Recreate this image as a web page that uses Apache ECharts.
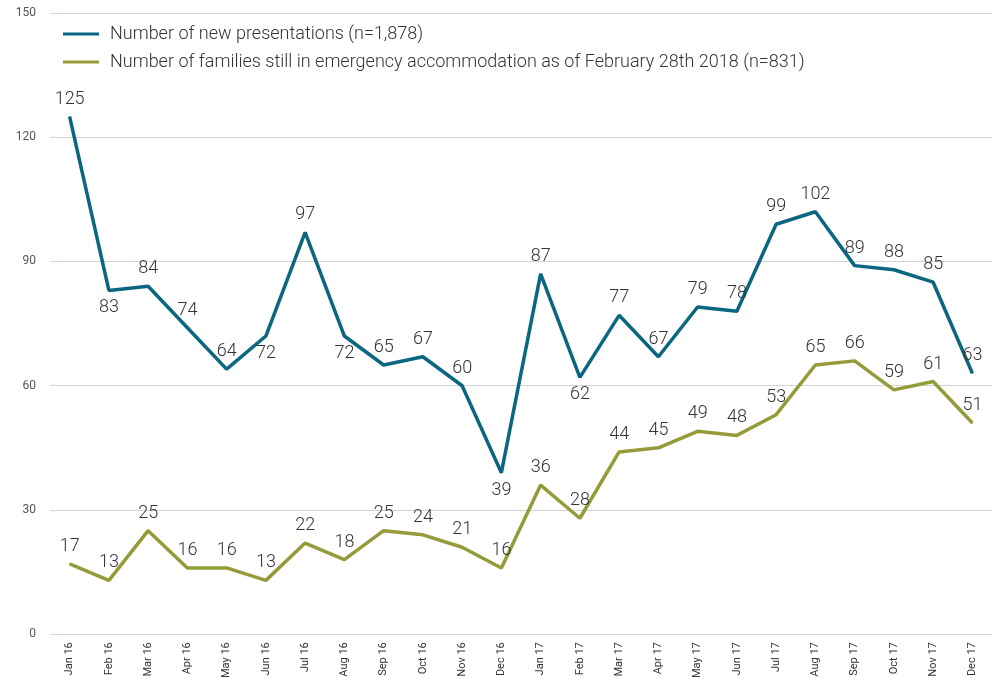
<!DOCTYPE html>
<html><head><meta charset="utf-8">
<script src="https://cdn.jsdelivr.net/npm/echarts@6/dist/echarts.min.js"></script>
<style>html,body{margin:0;padding:0;background:#fff}#c{width:992px;height:681px}</style>
</head><body><div id="c"></div>
<script>
const categories = ["Jan 16","Feb 16","Mar 16","Apr 16","May 16","Jun 16","Jul 16","Aug 16","Sep 16","Oct 16","Nov 16","Dec 16","Jan 17","Feb 17","Mar 17","Apr 17","May 17","Jun 17","Jul 17","Aug 17","Sep 17","Oct 17","Nov 17","Dec 17"];
const presentations = [125,83,84,74,64,72,97,72,65,67,60,39,87,62,77,67,79,78,99,102,89,88,85,63];
const families = [17,13,25,16,16,13,22,18,25,24,21,16,36,28,44,45,49,48,53,65,66,59,61,51];
const presentationsBelow = [1,5,7,11,13];
const seriesNames = ["Number of new presentations (n=1,878)","Number of families still in emergency accommodation as of February 28th 2018 (n=831)"];
const yTicks = [0,30,60,90,120,150];

const FONT = "Roboto";
const blue = "#0b6681", olive = "#969b3a";
const chart = echarts.init(document.getElementById('c'));
chart.setOption({
  animation:false,
  textStyle:{fontFamily:FONT},
  grid:{left:50,right:0,top:13,bottom:44,containLabel:false},
  legend:{
    orient:'vertical', left:58, top:20, itemWidth:36, itemHeight:3, itemGap:10,
    icon:'rect',
    textStyle:{fontSize:18,fontWeight:300,color:'#333',fontFamily:FONT,padding:[0,0,0,6]},
    data:seriesNames
  },
  xAxis:{
    type:'category', data:categories, boundaryGap:true,
    axisLine:{show:false}, axisTick:{show:false},
    axisLabel:{rotate:90, fontSize:11, color:'#333', margin:8, interval:0}
  },
  yAxis:{
    type:'value', min:yTicks[0], max:yTicks[yTicks.length-1], interval:30,
    axisLine:{show:false}, axisTick:{show:false},
    axisLabel:{fontSize:12, color:'#555', margin:14},
    splitLine:{lineStyle:{color:'#cdd6d6',width:1}}
  },
  series:[
    {name:seriesNames[0], type:'line', data:presentations.map((v,i)=>({value:v,label:{position:presentationsBelow.includes(i)?'bottom':'top'}})),
     symbol:'circle', symbolSize:1, showSymbol:true, lineStyle:{color:blue,width:3.5}, itemStyle:{color:blue},
     label:{show:true,fontSize:18,fontWeight:300,color:'#333',distance:8}},
    {name:seriesNames[1], type:'line', data:families,
     symbol:'circle', symbolSize:1, showSymbol:true, lineStyle:{color:olive,width:3.5}, itemStyle:{color:olive},
     label:{show:true,position:'top',fontSize:18,fontWeight:300,color:'#333',distance:8}}
  ]
});
</script></body></html>
